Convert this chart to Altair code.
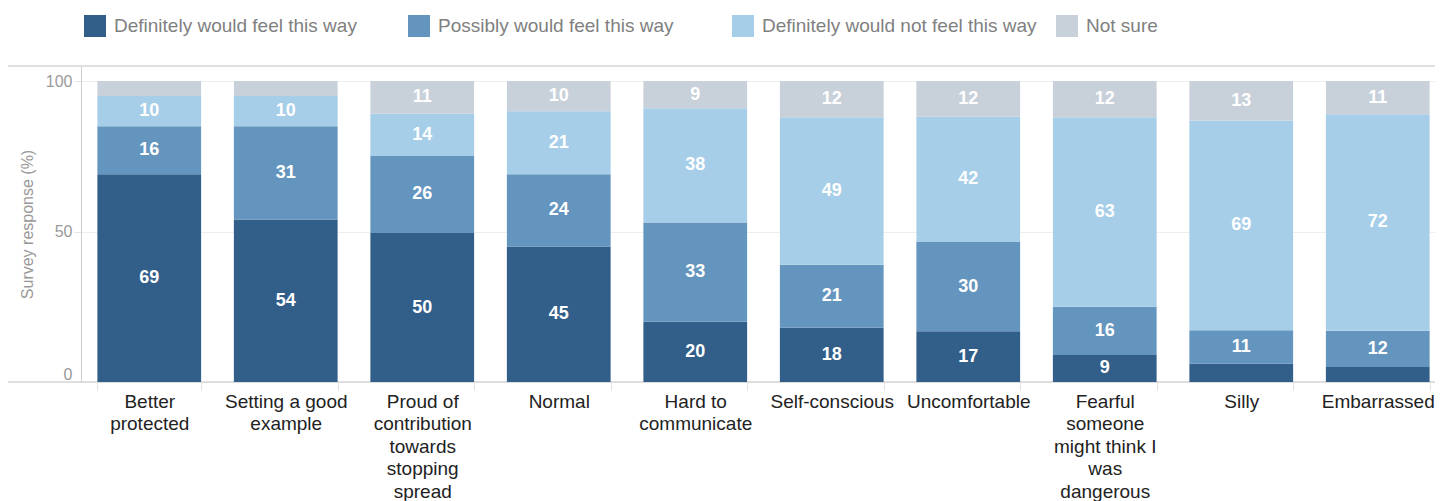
import json
import altair as alt
import pandas as pd

categories = [
    "Better protected",
    "Setting a good example",
    "Proud of contribution towards stopping spread",
    "Normal",
    "Hard to communicate",
    "Self-conscious",
    "Uncomfortable",
    "Fearful someone might think I was dangerous",
    "Silly",
    "Embarrassed",
]
label_lines = [
    ["Better", "protected"],
    ["Setting a good", "example"],
    ["Proud of", "contribution", "towards", "stopping", "spread"],
    ["Normal"],
    ["Hard to", "communicate"],
    ["Self-conscious"],
    ["Uncomfortable"],
    ["Fearful", "someone", "might think I", "was", "dangerous"],
    ["Silly"],
    ["Embarrassed"],
]
series = [
    "Definitely would feel this way",
    "Possibly would feel this way",
    "Definitely would not feel this way",
    "Not sure",
]
colors = ["#325e8a", "#6495be", "#a6cee8", "#c8d0da"]

definitely = [69, 54, 50, 45, 20, 18, 17, 9, 6, 5]
possibly = [16, 31, 26, 24, 33, 21, 30, 16, 11, 12]
definitely_not = [10, 10, 14, 21, 38, 49, 42, 63, 69, 72]
not_sure = [5, 5, 11, 10, 9, 12, 12, 12, 13, 11]

rows = []
for i, c in enumerate(categories):
    for j, (s, vals) in enumerate(zip(series, [definitely, possibly, definitely_not, not_sure])):
        rows.append({"category": c, "series": s, "ord": j, "value": vals[i]})
df = pd.DataFrame(rows)

LEFT = 73
W = 1353
H = 316
FULL = 1365

label_map = "({" + ", ".join(
    f"{json.dumps(c)}: {json.dumps(l)}" for c, l in zip(categories, label_lines)
) + "})[datum.label]"

x_scale = alt.Scale(domain=categories, range=[0, FULL], paddingInner=0.24, paddingOuter=0.12)
y_scale = alt.Scale(domain=[0, 105], nice=False, zero=True)

x_axis = alt.Axis(
    title=None, labelAngle=0, domain=False, ticks=True, tickBand="extent",
    tickSize=8, tickColor="#e3e3e3", labelExpr=label_map, labelFontSize=19,
    labelColor="#222222", labelLineHeight=22.5, labelPadding=2,
    labelOverlap=False, labelLimit=400, grid=False,
)
y_axis = alt.Axis(
    values=[0, 50, 100], title="Survey response (%)", titleFontSize=16,
    titleColor="#999999", titleFontWeight="normal", titlePadding=10,
    labelFontSize=16, labelColor="#999999", labelPadding=2, tickSize=7,
    tickColor="#e6e6e6", domainColor="#cccccc", gridColor="#eeeeee",
    labelFlush=True,
)

base = alt.Chart(df).transform_stack(
    stack="value", groupby=["category"], offset="normalize",
    sort=[alt.SortField("ord", order="ascending")], as_=["s0", "s1"],
).transform_calculate(
    y0="datum.s0 * 100", y1="datum.s1 * 100", mid="(datum.s0 + datum.s1) * 50"
)

bars = base.mark_bar().encode(
    x=alt.X("category:N", scale=x_scale, sort=categories, axis=x_axis),
    y=alt.Y("y0:Q", scale=y_scale, axis=y_axis),
    y2="y1:Q",
    color=alt.Color(
        "series:N",
        scale=alt.Scale(domain=series, range=colors),
        legend=alt.Legend(
            title=None, orient="none", legendX=3, legendY=-51,
            direction="horizontal", columns=4, gridAlign="all",
            columnPadding=19, symbolType="square", symbolSize=484,
            symbolStrokeWidth=0, symbolOpacity=1, labelFontSize=19,
            labelColor="#808080", labelOffset=8, padding=0, labelLimit=400,
        ),
    ),
)

labels = base.transform_filter("datum.value >= 8").mark_text(
    color="white", fontWeight="bold", fontSize=18, baseline="middle", align="center"
).encode(
    x=alt.X("category:N", scale=x_scale, sort=categories, axis=x_axis),
    y=alt.Y("mid:Q", scale=y_scale, axis=y_axis),
    text="value:Q",
)

frame = alt.Chart(pd.DataFrame({"yv": [0, 105]})).mark_rule(
    color="#d6d6d6", strokeWidth=1.5
).encode(
    y=alt.Y("yv:Q", scale=y_scale, axis=y_axis),
    x=alt.value(-LEFT),
    x2=alt.value(1361),
)

chart = alt.layer(frame, bars, labels).properties(
    width=W, height=H, autosize="none",
    padding={"left": LEFT, "top": 58, "right": 1, "bottom": 119},
).configure(
    font="Liberation Sans", background="white"
).configure_view(stroke=None)

chart.save("out.html", embed_options={"renderer": "svg", "actions": False})
